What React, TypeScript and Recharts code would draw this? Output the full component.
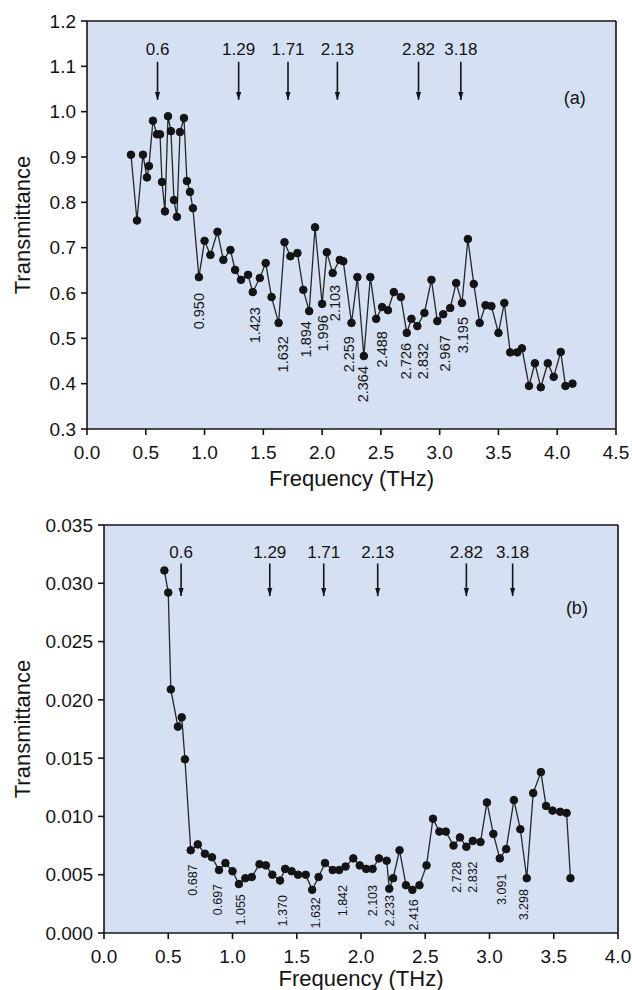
import React from "react";
import {
  ComposedChart,
  Line,
  Scatter,
  XAxis,
  YAxis,
  CartesianGrid,
  ReferenceLine,
} from "recharts";

const FONT = '"Liberation Sans", Arial, Helvetica, sans-serif';
const INK = "#141414";
const PLOT_BG = "#d5e1f2";

// ---- panel (a) ----
const topFreq = [
  0.374, 0.425, 0.476, 0.51, 0.527, 0.561, 0.595, 0.621, 0.638, 0.663, 0.689,
  0.714, 0.74, 0.765, 0.791, 0.825, 0.85, 0.876, 0.901, 0.952, 1.0, 1.05, 1.11,
  1.16, 1.22, 1.26, 1.31, 1.37, 1.41, 1.47, 1.52, 1.57, 1.63, 1.68, 1.73, 1.79,
  1.84, 1.89, 1.94, 2.0, 2.04, 2.09, 2.15, 2.18, 2.25, 2.3, 2.355, 2.41, 2.46,
  2.51, 2.56, 2.61, 2.67, 2.72, 2.76, 2.81, 2.87, 2.93, 2.98, 3.03, 3.09, 3.14,
  3.19, 3.24, 3.29, 3.34, 3.39, 3.44, 3.5, 3.55, 3.6, 3.66, 3.7, 3.76, 3.81,
  3.86, 3.92, 3.97, 4.03, 4.07, 4.13,
];
const topTrans = [
  0.905, 0.76, 0.905, 0.855, 0.88, 0.98, 0.95, 0.95, 0.845, 0.78, 0.99, 0.957,
  0.805, 0.768, 0.955, 0.986, 0.847, 0.823, 0.787, 0.635, 0.715, 0.684, 0.735,
  0.673, 0.695, 0.651, 0.629, 0.64, 0.602, 0.633, 0.666, 0.591, 0.534, 0.712,
  0.681, 0.688, 0.607, 0.56, 0.745, 0.576, 0.69, 0.644, 0.673, 0.67, 0.534,
  0.635, 0.461, 0.635, 0.543, 0.569, 0.562, 0.602, 0.591, 0.512, 0.543, 0.527,
  0.556, 0.629, 0.538, 0.553, 0.567, 0.622, 0.578, 0.719, 0.62, 0.534, 0.573,
  0.571, 0.512, 0.578, 0.469, 0.469, 0.478, 0.395, 0.445, 0.392, 0.445, 0.415,
  0.47, 0.395, 0.4,
];
const topMinText = [
  "0.950", "1.423", "1.632", "1.894", "1.996", "2.103", "2.259", "2.364",
  "2.488", "2.726", "2.832", "2.967", "3.195",
];
const topMinX = [
  0.952, 1.429, 1.667, 1.862, 2.007, 2.109, 2.228, 2.347, 2.509, 2.713, 2.857,
  3.044, 3.197,
];
const topMinY = [
  0.6, 0.569, 0.505, 0.538, 0.551, 0.618, 0.505, 0.439, 0.516, 0.49, 0.49,
  0.507, 0.547,
];
const topXTicks = [0, 0.5, 1, 1.5, 2, 2.5, 3, 3.5, 4, 4.5];
const topXMinor = [
  0.25, 0.5, 0.75, 1, 1.25, 1.5, 1.75, 2, 2.25, 2.5, 2.75, 3, 3.25, 3.5, 3.75,
  4, 4.25,
];
const topYTicks = [0.3, 0.4, 0.5, 0.6, 0.7, 0.8, 0.9, 1.0, 1.1, 1.2];
const topYMinor = [
  0.35, 0.4, 0.45, 0.5, 0.55, 0.6, 0.65, 0.7, 0.75, 0.8, 0.85, 0.9, 0.95, 1.0,
  1.05, 1.1, 1.15,
];

// ---- panel (b) ----
const botFreq = [
  0.47, 0.5, 0.52, 0.575, 0.605, 0.63, 0.675, 0.73, 0.785, 0.84, 0.895, 0.945,
  1.0, 1.05, 1.1, 1.15, 1.21, 1.26, 1.31, 1.37, 1.41, 1.46, 1.51, 1.57, 1.62,
  1.67, 1.72, 1.78, 1.83, 1.88, 1.94, 1.99, 2.04, 2.09, 2.14, 2.2, 2.22, 2.25,
  2.3, 2.35, 2.4, 2.455, 2.51, 2.56, 2.61, 2.66, 2.72, 2.77, 2.82, 2.87, 2.93,
  2.98, 3.03, 3.08, 3.13, 3.19, 3.24, 3.29, 3.34, 3.4, 3.44, 3.49, 3.55, 3.6,
  3.63,
];
const botTrans = [
  0.0311, 0.0292, 0.0209, 0.0177, 0.0185, 0.0149, 0.0071, 0.0076, 0.0068,
  0.0065, 0.0054, 0.006, 0.0053, 0.0042, 0.0047, 0.0048, 0.0059, 0.0058, 0.005,
  0.0045, 0.0055, 0.0053, 0.005, 0.005, 0.0037, 0.0048, 0.006, 0.0054, 0.0054,
  0.0057, 0.0064, 0.0058, 0.0055, 0.0055, 0.0064, 0.0062, 0.0038, 0.0047,
  0.0071, 0.0041, 0.0037, 0.0041, 0.0058, 0.0098, 0.0087, 0.0087, 0.0075,
  0.0082, 0.0074, 0.0079, 0.0078, 0.0112, 0.0085, 0.0064, 0.0072, 0.0114,
  0.0089, 0.0047, 0.012, 0.0138, 0.0109, 0.0105, 0.0104, 0.0103, 0.0047,
];
const botMinText = [
  "0.687", "0.697", "1.055", "1.370", "1.632", "1.842", "2.103", "2.233",
  "2.416", "2.728", "2.832", "3.091", "3.298",
];
const botMinX = [
  0.695, 0.89, 1.07, 1.39, 1.65, 1.86, 2.09, 2.225, 2.415, 2.745, 2.87, 3.095,
  3.27,
];
const botMinY = [
  0.00588, 0.00421, 0.00333, 0.00325, 0.00307, 0.00412, 0.00412, 0.00325,
  0.0029, 0.00614, 0.00614, 0.00509, 0.00377,
];
const botXTicks = [0, 0.5, 1, 1.5, 2, 2.5, 3, 3.5, 4];
const botXMinor = [
  0.25, 0.5, 0.75, 1, 1.25, 1.5, 1.75, 2, 2.25, 2.5, 2.75, 3, 3.25, 3.5, 3.75,
];
const botYTicks = [0, 0.005, 0.01, 0.015, 0.02, 0.025, 0.03, 0.035];
const botYMinor = [
  0.0025, 0.005, 0.0075, 0.01, 0.0125, 0.015, 0.0175, 0.02, 0.0225, 0.025,
  0.0275, 0.03, 0.0325,
];

// arrows (same resonances in both panels)
const arrowFreq = [0.6, 1.29, 1.71, 2.13, 2.82, 3.18];
const arrowText = ["0.6", "1.29", "1.71", "2.13", "2.82", "3.18"];
const topArrowTop = 1.11;
const topArrowTip = 1.026;
const topArrowLabel = 1.138;
const botArrowTop = 0.0317;
const botArrowTip = 0.0289;
const botArrowLabel = 0.0326;

const rotLabel = (size: number) => (p: any) => (
  <text
    x={p.cx}
    y={p.cy}
    transform={`rotate(-90 ${p.cx} ${p.cy})`}
    textAnchor="end"
    dominantBaseline="central"
    fontSize={size}
    fontFamily={FONT}
    fill={INK}
  >
    {p.payload.text}
  </text>
);

const centerText = (size: number) => (p: any) => (
  <text
    x={p.cx}
    y={p.cy}
    textAnchor="middle"
    dominantBaseline="central"
    fontSize={size}
    fontFamily={FONT}
    fill={INK}
  >
    {p.payload.text}
  </text>
);

const arrowHead = (p: any) => (
  <path
    d={`M${p.cx - 2.6},${p.cy - 8} L${p.cx + 2.6},${p.cy - 8} L${p.cx},${p.cy} Z`}
    fill={INK}
  />
);

interface PanelProps {
  freq: number[];
  trans: number[];
  minText: string[];
  minX: number[];
  minY: number[];
  xDomain: [number, number];
  xTicks: number[];
  xMinor: number[];
  yDomain: [number, number];
  yTicks: number[];
  yMinor: number[];
  yDigits: number;
  arrowTop: number;
  arrowTip: number;
  arrowLabel: number;
  tag: string;
  tagX: number;
  tagY: number;
  minFont: number;
  yAxisWidth: number;
  rightMargin: number;
  height: number;
  xAxisHeight: number;
  titleOffset: number;
}

function Panel(props: PanelProps) {
  const data = props.freq.map((f, i) => ({ f, t: props.trans[i] }));
  const minLabels = props.minText.map((text, i) => ({
    f: props.minX[i],
    v: props.minY[i],
    text,
  }));
  const arrowLabels = arrowFreq.map((f, i) => ({
    f,
    v: props.arrowLabel,
    text: arrowText[i],
  }));
  const arrowTips = arrowFreq.map((f) => ({ f, v: props.arrowTip }));
  const tagData = [{ f: props.tagX, v: props.tagY, text: props.tag }];
  const axisStroke = { stroke: INK, strokeWidth: 1.6 };
  const tickFont = { fontSize: 19, fill: INK, fontFamily: FONT };

  return (
    <ComposedChart
      width={632}
      height={props.height}
      margin={{ top: 21, right: props.rightMargin, bottom: 0, left: 0 }}
    >
      <CartesianGrid
        xAxisId="x"
        yAxisId="y"
        horizontal={false}
        vertical={false}
        fill={PLOT_BG}
        fillOpacity={1}
      />
      <XAxis
        xAxisId="x"
        dataKey="f"
        type="number"
        domain={props.xDomain}
        ticks={props.xTicks}
        allowDataOverflow
        tickFormatter={(v: number) => v.toFixed(1)}
        tick={tickFont}
        tickSize={6}
        tickMargin={11}
        height={props.xAxisHeight}
        axisLine={axisStroke}
        tickLine={axisStroke}
        label={{
          value: "Frequency (THz)",
          position: "insideBottom",
          offset: props.titleOffset,
          style: { fontSize: 22, fill: INK, fontFamily: FONT },
        }}
      />
      <XAxis
        xAxisId="xb"
        type="number"
        domain={props.xDomain}
        ticks={props.xMinor}
        allowDataOverflow
        mirror
        tick={false}
        tickSize={4}
        axisLine={false}
        tickLine={{ stroke: INK, strokeWidth: 1.3 }}
      />
      <XAxis
        xAxisId="xt"
        orientation="top"
        type="number"
        domain={props.xDomain}
        ticks={props.xMinor}
        allowDataOverflow
        mirror
        tick={false}
        tickSize={6}
        axisLine={axisStroke}
        tickLine={{ stroke: INK, strokeWidth: 1.4 }}
      />
      <YAxis
        yAxisId="y"
        type="number"
        domain={props.yDomain}
        ticks={props.yTicks}
        allowDataOverflow
        width={props.yAxisWidth}
        tickFormatter={(v: number) => v.toFixed(props.yDigits)}
        tick={tickFont}
        tickSize={6}
        tickMargin={5}
        axisLine={axisStroke}
        tickLine={axisStroke}
        label={{
          value: "Transmittance",
          angle: -90,
          position: "insideLeft",
          offset: 22,
          style: { textAnchor: "middle", fontSize: 22, fill: INK, fontFamily: FONT },
        }}
      />
      <YAxis
        yAxisId="yl"
        type="number"
        domain={props.yDomain}
        ticks={props.yMinor}
        allowDataOverflow
        mirror
        tick={false}
        tickSize={4}
        axisLine={false}
        tickLine={{ stroke: INK, strokeWidth: 1.2 }}
      />
      <YAxis
        yAxisId="yr"
        orientation="right"
        type="number"
        domain={props.yDomain}
        ticks={props.yMinor}
        allowDataOverflow
        mirror
        tick={false}
        tickSize={4}
        axisLine={axisStroke}
        tickLine={{ stroke: INK, strokeWidth: 1.2 }}
      />
      {arrowFreq.map((f) => (
        <ReferenceLine
          key={f}
          xAxisId="x"
          yAxisId="y"
          segment={[
            { x: f, y: props.arrowTop },
            { x: f, y: props.arrowTip },
          ]}
          stroke={INK}
          strokeWidth={1.6}
        />
      ))}
      <Line
        xAxisId="x"
        yAxisId="y"
        data={data}
        dataKey="t"
        type="linear"
        stroke="#262626"
        strokeWidth={1.3}
        dot={{ r: 3.8, fill: INK, stroke: INK, strokeWidth: 1 }}
        activeDot={false}
        isAnimationActive={false}
      />
      <Scatter
        xAxisId="x"
        yAxisId="y"
        data={arrowTips}
        dataKey="v"
        shape={arrowHead}
        isAnimationActive={false}
      />
      <Scatter
        xAxisId="x"
        yAxisId="y"
        data={arrowLabels}
        dataKey="v"
        shape={centerText(17)}
        isAnimationActive={false}
      />
      <Scatter
        xAxisId="x"
        yAxisId="y"
        data={minLabels}
        dataKey="v"
        shape={rotLabel(props.minFont)}
        isAnimationActive={false}
      />
      <Scatter
        xAxisId="x"
        yAxisId="y"
        data={tagData}
        dataKey="v"
        shape={centerText(18)}
        isAnimationActive={false}
      />
    </ComposedChart>
  );
}

export default function App() {
  return (
    <div
      style={{
        position: "absolute",
        left: 0,
        top: 0,
        width: 632,
        height: 990,
        background: "#fff",
        overflow: "hidden",
      }}
    >
      <div style={{ position: "absolute", left: 0, top: 0 }}>
        <Panel
          freq={topFreq}
          trans={topTrans}
          minText={topMinText}
          minX={topMinX}
          minY={topMinY}
          xDomain={[0, 4.5]}
          xTicks={topXTicks}
          xMinor={topXMinor}
          yDomain={[0.3, 1.2]}
          yTicks={topYTicks}
          yMinor={topYMinor}
          yDigits={1}
          arrowTop={topArrowTop}
          arrowTip={topArrowTip}
          arrowLabel={topArrowLabel}
          tag="(a)"
          tagX={4.15}
          tagY={1.03}
          minFont={14.5}
          yAxisWidth={87}
          rightMargin={16}
          height={500}
          xAxisHeight={71}
          titleOffset={14}
        />
      </div>
      <div style={{ position: "absolute", left: 0, top: 504 }}>
        <Panel
          freq={botFreq}
          trans={botTrans}
          minText={botMinText}
          minX={botMinX}
          minY={botMinY}
          xDomain={[0, 4]}
          xTicks={botXTicks}
          xMinor={botXMinor}
          yDomain={[0, 0.035]}
          yTicks={botYTicks}
          yMinor={botYMinor}
          yDigits={3}
          arrowTop={botArrowTop}
          arrowTip={botArrowTip}
          arrowLabel={botArrowLabel}
          tag="(b)"
          tagX={3.68}
          tagY={0.0279}
          minFont={12.5}
          yAxisWidth={104}
          rightMargin={14}
          height={486}
          xAxisHeight={57}
          titleOffset={4}
        />
      </div>
    </div>
  );
}
